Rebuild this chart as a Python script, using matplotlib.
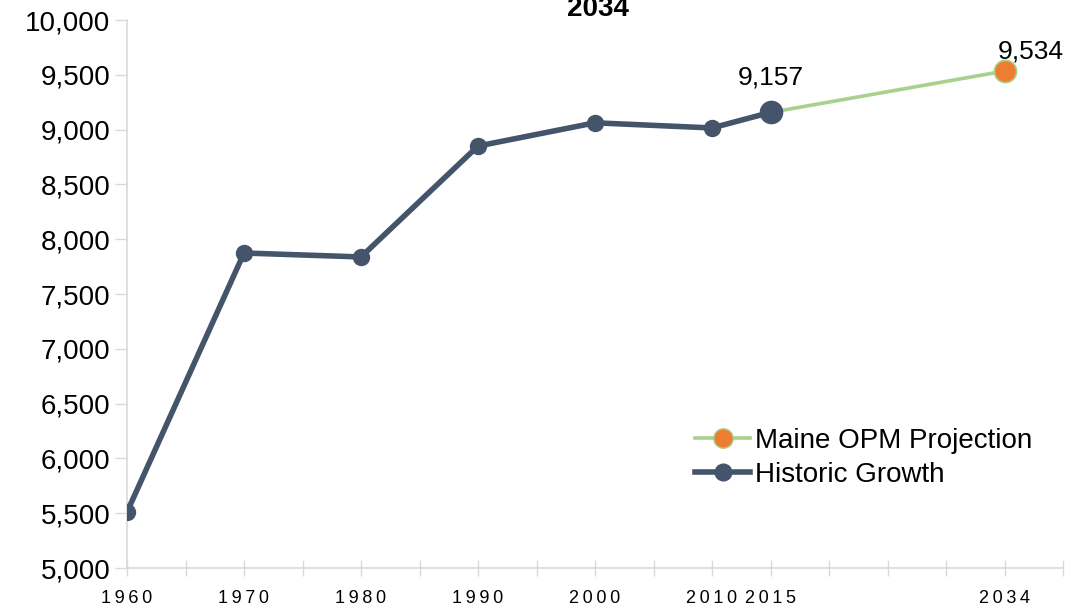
import matplotlib.pyplot as plt
from matplotlib.ticker import FuncFormatter
from matplotlib.lines import Line2D

plt.rcParams['font.family'] = ['Liberation Sans', 'DejaVu Sans']

# category axis in 5-year steps, 2034 sits in the last slot
cats = ['1960', '', '1970', '', '1980', '', '1990', '', '2000', '', '2010', '2015', '', '', '', '2034']

hist_years = ['1960', '1970', '1980', '1990', '2000', '2010', '2015']
hist_vals = [5510, 7874, 7838, 8850, 9062, 9015, 9157]

proj_years = ['2015', '2034']
proj_vals = [9157, 9534]

hx = [cats.index(y) for y in hist_years]
px = [cats.index(y) for y in proj_years]

fig = plt.figure(figsize=(10.73, 6.08), dpi=100)
ax = fig.add_axes([127 / 1073, 1 - 568 / 608, (1063 - 127) / 1073, (568 - 20) / 608])

dark = '#44546A'
green = '#A9D18E'
orange = '#ED7D31'

ax.plot(px, proj_vals, color=green, lw=2.6, zorder=2)
ax.plot(px[-1], proj_vals[-1], 'o', ms=16, mfc=orange, mec=green, mew=1.2, zorder=4)
ax.plot(hx, hist_vals, color=dark, lw=4, marker='o', ms=11.5, zorder=3)
ax.plot(hx[-1], hist_vals[-1], 'o', ms=16, color=dark, zorder=4)

ax.text(hx[-1], hist_vals[-1] + 210, '{:,}'.format(hist_vals[-1]), ha='center', va='bottom', fontsize=19)
ax.text(px[-1] + 0.45, proj_vals[-1] + 70, '{:,}'.format(proj_vals[-1]), ha='center', va='bottom', fontsize=19)

ax.set_xlim(0, 16)
ax.set_ylim(5000, 10000)
ax.set_yticks(range(5000, 10001, 500))
ax.yaxis.set_major_formatter(FuncFormatter(lambda v, p: '{:,.0f}'.format(v)))
ax.set_xticks(range(0, 17))
ax.set_xticklabels(['\u2009'.join(c) for c in cats] + [''], fontsize=13)

ax.tick_params(axis='y', labelsize=20, length=9, width=1, color='#D9D9D9', pad=3)
ax.tick_params(axis='x', direction='inout', length=12, width=1, color='#D9D9D9', pad=10)
for s in ['top', 'right']:
    ax.spines[s].set_visible(False)
for s in ['left', 'bottom']:
    ax.spines[s].set_color('#D9D9D9')
    ax.spines[s].set_linewidth(1.2)

h1 = Line2D([], [], color=green, lw=2.6, marker='o', ms=14, mfc=orange, mec=green)
h2 = Line2D([], [], color=dark, lw=4, marker='o', ms=12)
ax.legend([h1, h2], ['Maine OPM Projection', 'Historic Growth'], loc='lower left',
          bbox_to_anchor=(0.58, 0.10), frameon=False, fontsize=20, handlelength=2.0,
          handletextpad=0.15, labelspacing=0.3)

fig.text(598 / 1073, 1 - 16 / 608, '2034', ha='center', va='baseline', fontsize=20, fontweight='bold')

fig.savefig('out.png', dpi=100)
